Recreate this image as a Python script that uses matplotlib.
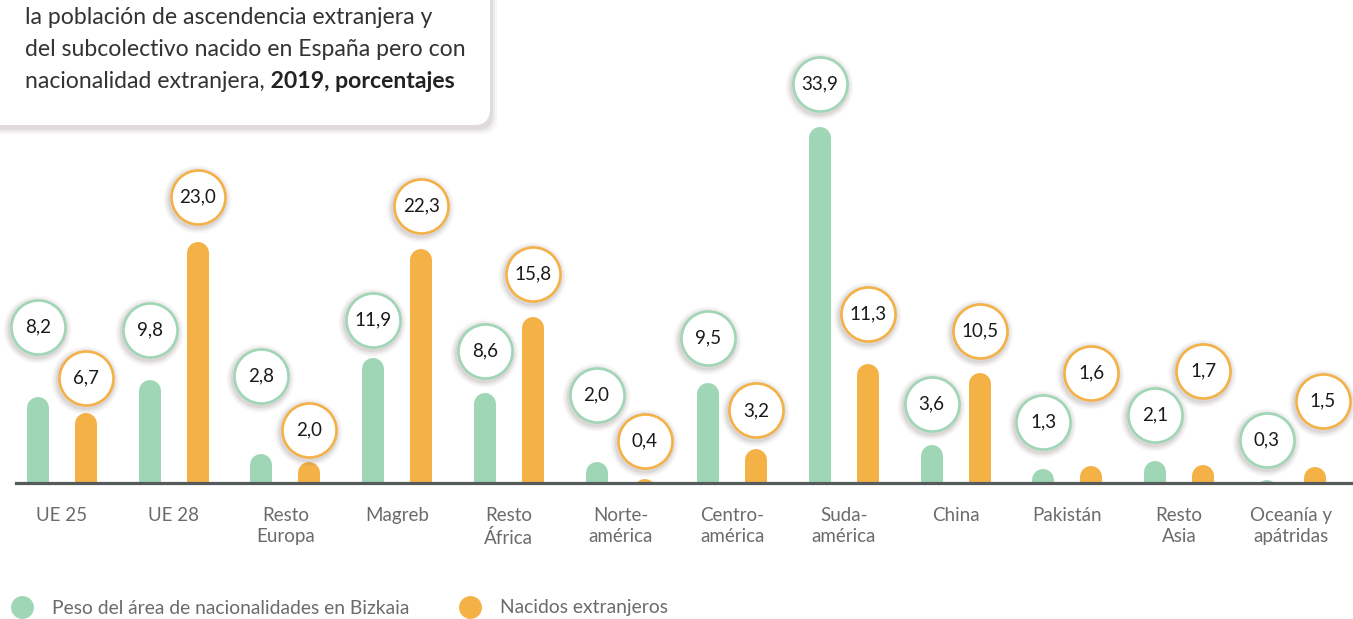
import matplotlib
matplotlib.use("Agg")
import matplotlib.pyplot as plt
from matplotlib.lines import Line2D
from matplotlib.patches import FancyBboxPatch
from matplotlib.transforms import offset_copy

categories = ["UE 25", "UE 28", "Resto\nEuropa", "Magreb", "Resto\nÁfrica",
              "Norte-\namérica", "Centro-\namérica", "Suda-\namérica", "China",
              "Pakistán", "Resto\nAsia", "Oceanía y\napátridas"]
peso_bizkaia = [8.2, 9.8, 2.8, 11.9, 8.6, 2.0, 9.5, 33.9, 3.6, 1.3, 2.1, 0.3]
nacidos_extranjeros = [6.7, 23.0, 2.0, 22.3, 15.8, 0.4, 3.2, 11.3, 10.5, 1.6, 1.7, 1.5]
series_names = ["Peso del área de nacionalidades en Bizkaia", "Nacidos extranjeros"]

title_lines = ["la población de ascendencia extranjera y",
               "del subcolectivo nacido en España pero con",
               "nacionalidad extranjera,"]
title_bold = " 2019, porcentajes"

# label bubble offsets above bar top, in pixels (layout only)
green_dy = [70, 50, 78, 38, 42, 67, 45, 43, 41, 47, 46, 40]
orange_dy = [35, 45, 32, 43, 43, 38, 39, 50, 42, 93, 94, 66]
orange_dx = [0] * 11 + [8]

GREEN = "#9fd6b6"
ORANGE = "#f4b146"
AXIS = "#555b5b"
GREY = "#6b6b6b"
FONT = "Lato"

W, H, DPI = 1353, 619, 100
fig = plt.figure(figsize=(W / DPI, H / DPI), dpi=DPI)
base_px = 483
ax = fig.add_axes([16 / W, (H - base_px) / H, 1 - 16 / W, base_px / H])
px_per_unit = 10.5
ax.set_ylim(0, base_px / px_per_unit)
gap = 111.7
ax.set_xlim((16 - 62) / gap, (W - 62) / gap)

off = 24 / gap
bar_lw = 22 * 72 / DPI
r_data = 11 / px_per_unit


def fmt(v):
    return f"{v:.1f}".replace(".", ",")


def bubble(x, v, dx, dy, color):
    for k, a in [(12, 0.04), (9, 0.05), (6, 0.07), (3, 0.09)]:
        tr = offset_copy(ax.transData, fig=fig, x=dx - 1, y=dy - 2, units="dots")
        ax.plot(x, v, "o", ms=(56 + k) * 72 / DPI, color="#6e5a5a", alpha=a,
                mec="none", transform=tr, clip_on=False, zorder=4)
    tr = offset_copy(ax.transData, fig=fig, x=dx, y=dy, units="dots")
    ax.plot(x, v, "o", ms=54 * 72 / DPI, mfc="white", mec=color,
            mew=2.6 * 72 / DPI, transform=tr, clip_on=False, zorder=5)
    ax.text(x, v, fmt(v), transform=tr, ha="center", va="center",
            fontsize=13.5, family=FONT, color="#1a1a1a", zorder=6, clip_on=False)


for i in range(len(categories)):
    for x, v, color, dx, dy in [(i - off, peso_bizkaia[i], GREEN, 0, green_dy[i]),
                                (i + off, nacidos_extranjeros[i], ORANGE, orange_dx[i], orange_dy[i])]:
        ax.plot([x, x], [-3, v - r_data], color=color, lw=bar_lw,
                solid_capstyle="round", zorder=3)
        bubble(x, v, dx, dy, color)

for s in ["top", "right", "left"]:
    ax.spines[s].set_visible(False)
ax.spines["bottom"].set_color(AXIS)
ax.spines["bottom"].set_linewidth(2.3)
ax.spines["bottom"].set_zorder(7)
ax.set_yticks([])
ax.set_xticks(range(len(categories)), categories)
ax.tick_params(axis="x", length=0, pad=17.5, labelsize=13.5, labelcolor=GREY)
for lab in ax.get_xticklabels():
    lab.set_family(FONT)
    lab.set_linespacing(1.28)
ax.patch.set_alpha(0)

# overlay in pixel coordinates for the title box
oax = fig.add_axes([0, 0, 1, 1], zorder=10)
oax.set_xlim(0, W)
oax.set_ylim(H, 0)
oax.axis("off")
for k, a in [(6, 0.05), (4, 0.07), (2, 0.1)]:
    oax.add_patch(FancyBboxPatch((-40 + 1, -40 + 3), 530, 165,
                                 boxstyle=f"round,pad={k},rounding_size=16",
                                 fc="#6e5a5a", ec="none", alpha=a))
oax.add_patch(FancyBboxPatch((-40, -40), 530, 165,
                             boxstyle="round,pad=0,rounding_size=16",
                             fc="white", ec="none"))
ys = [17, 50, 81]
last = None
for t, y in zip(title_lines, ys):
    last = oax.text(25, y, t, fontsize=16.6, family=FONT, color="#333333",
                    ha="left", va="center")
oax.annotate(title_bold, xy=(1, 0), xycoords=last, ha="left", va="bottom",
             fontsize=16.6, family=FONT, weight="bold", color="#222222")

handles = [Line2D([], [], ls="none", marker="o", ms=16.5, color=c, mec="none")
           for c in [GREEN, ORANGE]]
leg = fig.legend(handles, series_names, loc="center left", ncol=2,
                 bbox_to_anchor=(12.3 / W, 11 / H), frameon=False,
                 borderaxespad=0, borderpad=0, handlelength=1.0,
                 handletextpad=1.05, columnspacing=2.66,
                 prop={"family": FONT, "size": 13.9})
for t in leg.get_texts():
    t.set_color(GREY)

fig.savefig("out.png", dpi=DPI)
